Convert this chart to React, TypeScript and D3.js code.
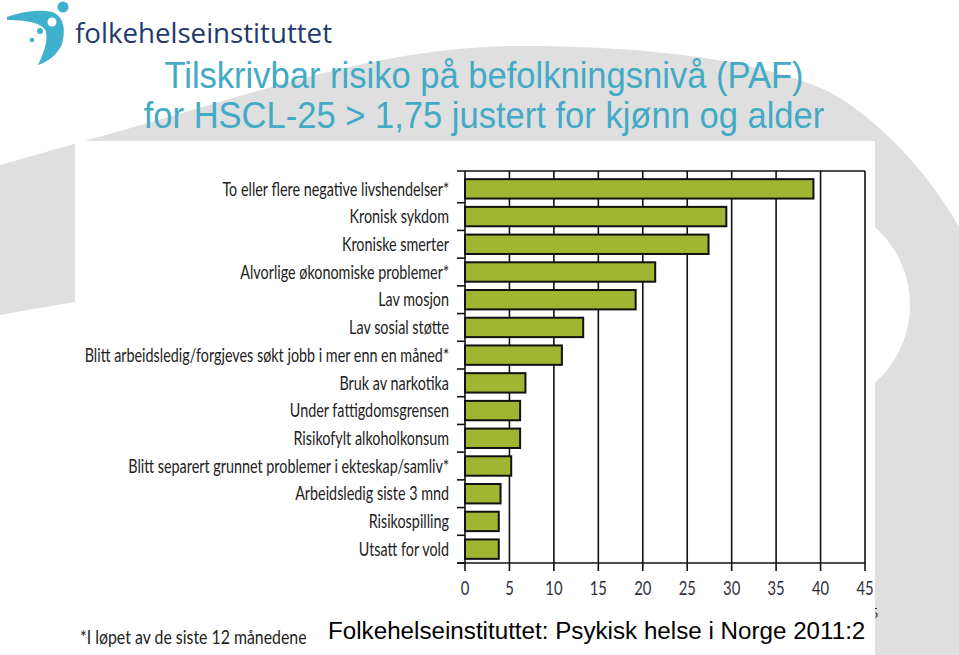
import React from "react";
import * as d3 from "d3";

const categories = [
  "To eller flere negative livshendelser*",
  "Kronisk sykdom",
  "Kroniske smerter",
  "Alvorlige økonomiske problemer*",
  "Lav mosjon",
  "Lav sosial støtte",
  "Blitt arbeidsledig/forgjeves søkt jobb i mer enn en måned*",
  "Bruk av narkotika",
  "Under fattigdomsgrensen",
  "Risikofylt alkoholkonsum",
  "Blitt separert grunnet problemer i ekteskap/samliv*",
  "Arbeidsledig siste 3 mnd",
  "Risikospilling",
  "Utsatt for vold",
];
const values = [39.2, 29.4, 27.4, 21.4, 19.2, 13.3, 10.9, 6.8, 6.2, 6.2, 5.2, 4.0, 3.8, 3.8];
const xTicks = [0, 5, 10, 15, 20, 25, 30, 35, 40, 45];
const titleLines = [
  "Tilskrivbar risiko på befolkningsnivå (PAF)",
  "for HSCL-25 > 1,75 justert for kjønn og alder",
];
const footnote = "*I løpet av de siste 12 månedene";
const source = "Folkehelseinstituttet: Psykisk helse i Norge 2011:2";
const logoText = "folkehelseinstituttet";

const W = 959;
const H = 655;
const labelFont = "Lato, 'DejaVu Sans Condensed', sans-serif";
const SX = 0.776;

export default function App() {
  const x = d3.scaleLinear().domain([0, 45]).range([465, 865]);
  const plotTop = 171;
  const plotBottom = 563;
  const y = d3
    .scaleBand<string>()
    .domain(categories)
    .range([175, plotBottom])
    .paddingInner(0.3)
    .paddingOuter(0.15);
  const step = y.step();
  const boundaries = categories.map((c) => (y(c) as number) - (step * 0.3) / 2);
  const leftTicks = boundaries.slice(1).concat([plotBottom]);

  const bgPath =
    "M0,165 L120,131 C250,95 380,46 520,46 C650,46 760,60 830,92 C880,120 930,175 959,227 L959,655 L870,655 L870,200 L200,280 L0,315 Z";

  return (
    <svg
      width={W}
      height={H}
      style={{ position: "absolute", left: 0, top: 0, background: "#fff" }}
    >
      <rect x={0} y={0} width={W} height={H} fill="#ffffff" />
      {/* background swoosh */}
      <path d={bgPath} fill="#dfdfdf" />
      <circle cx={806} cy={305} r={104} fill="#ffffff" />
      {/* slide number partly hidden */}
      <text x={871} y={618} fontFamily="Liberation Serif, serif" fontSize={14} fill="#222">
        5
      </text>
      {/* chart image white area */}
      <rect x={75} y={141} width={800} height={H - 141} fill="#ffffff" />

      {/* logo */}
      <g>
        <path
          d="M7,17 C20,12 40,9 52,12 C64,16 66,30 62,44 C58,54 48,62 38,65 C43,55 48,42 46,32 C44,24 30,20 7,20 Z"
          fill="#3fb1cc"
        />
        <circle cx={52} cy={22} r={4.5} fill="#ffffff" />
        <circle cx={63} cy={7} r={5.5} fill="#3fb1cc" />
        <circle cx={40} cy={31} r={3} fill="#3fb1cc" />
        <circle cx={32} cy={40} r={2.3} fill="#3fb1cc" />
        <text
          x={75}
          y={43}
          fontFamily="'Open Sans', sans-serif"
          fontSize={28}
          fill="#1f3a6d"
          textLength={257}
          lengthAdjust="spacingAndGlyphs"
        >
          {logoText}
        </text>
      </g>

      {/* title */}
      {titleLines.map((t, i) => (
        <text
          key={i}
          transform={`translate(484,${88 + i * 40}) scale(0.96,1)`}
          textAnchor="middle"
          fontFamily="'Liberation Sans', Arial, sans-serif"
          fontSize={36}
          fill="#43aac6"
        >
          {t}
        </text>
      ))}

      {/* grid lines */}
      {xTicks.slice(1).map((t) => (
        <line
          key={"g" + t}
          x1={x(t)}
          x2={x(t)}
          y1={plotTop}
          y2={plotBottom}
          stroke="#111"
          strokeWidth={1.6}
        />
      ))}
      {/* top frame line */}
      <line x1={457} x2={x(45)} y1={plotTop} y2={plotTop} stroke="#111" strokeWidth={1.6} />

      {/* bars */}
      {categories.map((c, i) => (
        <rect
          key={c}
          x={x(0)}
          y={y(c)}
          width={x(values[i]) - x(0)}
          height={y.bandwidth()}
          fill="#a0b531"
          stroke="#111"
          strokeWidth={2}
        />
      ))}

      {/* left axis */}
      <line x1={x(0)} x2={x(0)} y1={plotTop} y2={plotBottom} stroke="#111" strokeWidth={1.6} />
      {leftTicks.map((b, i) => (
        <line key={"lt" + i} x1={457} x2={x(0)} y1={b} y2={b} stroke="#111" strokeWidth={1.6} />
      ))}
      {/* bottom axis */}
      <line x1={457} x2={x(45)} y1={plotBottom} y2={plotBottom} stroke="#111" strokeWidth={1.6} />
      {xTicks.map((t) => (
        <g key={"xt" + t}>
          <line x1={x(t)} x2={x(t)} y1={plotBottom} y2={plotBottom + 8} stroke="#111" strokeWidth={1.6} />
          <text
            transform={`translate(${x(t)},588) scale(0.8,1)`}
            textAnchor="middle"
            dominantBaseline="central"
            fontFamily={labelFont}
            fontSize={18.5}
            fill="#2e2e3e"
          >
            {t}
          </text>
        </g>
      ))}

      {/* category labels */}
      {categories.map((c) => (
        <text
          key={"l" + c}
          transform={`translate(449,${(y(c) as number) + y.bandwidth() / 2}) scale(${SX},1)`}
          textAnchor="end"
          dominantBaseline="central"
          fontFamily={labelFont}
          fontSize={18.5}
          fill="#222"
        >
          {c}
        </text>
      ))}

      {/* footnote */}
      <text
        transform={`translate(80,637) scale(0.835,1)`}
        dominantBaseline="central"
        fontFamily={labelFont}
        fontSize={19}
        fill="#222"
      >
        {footnote}
      </text>

      {/* source */}
      <text x={328} y={639} fontFamily="'Liberation Sans', Arial, sans-serif" fontSize={24.2} fill="#000">
        {source}
      </text>
    </svg>
  );
}
